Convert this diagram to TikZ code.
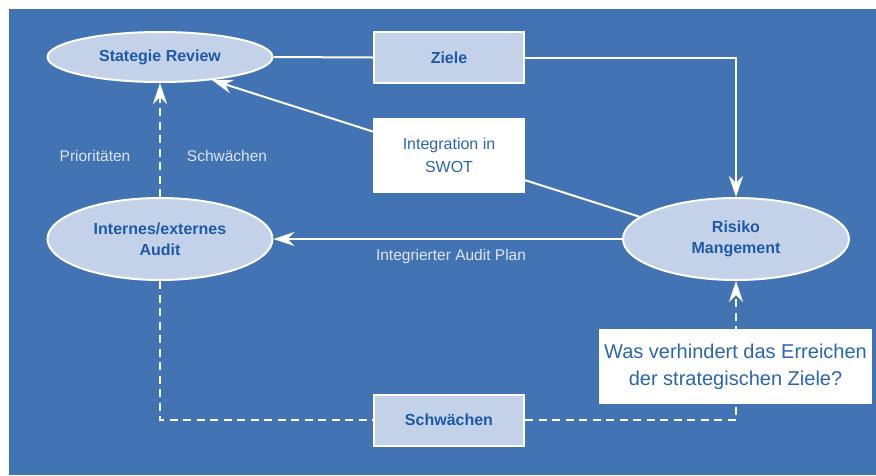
\documentclass[tikz,border=0pt]{standalone}
\usepackage{fontspec}
\setmainfont{Liberation Sans}
\usetikzlibrary{shapes.geometric,arrows.meta}

\definecolor{bgblue}{HTML}{4273B3}
\definecolor{paleblue}{HTML}{C4D2E9}
\definecolor{inkblue}{HTML}{1C5AA6}
\definecolor{softblue}{HTML}{2A66B0}
\definecolor{labelgrey}{HTML}{DCE5F1}

\tikzset{
  oval/.style={ellipse, draw=white, line width=2pt, fill=paleblue, inner sep=0pt,
    text=inkblue, align=center, font=\bfseries\fontsize{16}{21}\selectfont},
  tagbox/.style={rectangle, draw=white, line width=2pt, fill=paleblue, inner sep=0pt,
    minimum width=150pt, minimum height=51pt, text=inkblue,
    font=\bfseries\fontsize{16}{21}\selectfont},
  notebox/.style={rectangle, fill=white, inner sep=0pt, text=softblue, align=center},
  flowlabel/.style={text=labelgrey, font=\fontsize{15.5}{19}\selectfont, inner sep=0pt},
  link/.style={draw=white, line width=2pt},
  dashlink/.style={draw=white, line width=2.5pt, dash pattern=on 8pt off 5.5pt},
  tip/.style={-{Stealth[length=21pt,width=14pt,inset=7pt]}}
}

\begin{document}
\begin{tikzpicture}[x=1pt,y=-1pt]
  \useasboundingbox (0,0) rectangle (876,475);
  \fill[bgblue] (9,9) rectangle (876,475);

  % ovals
  \node[oval, minimum width=225pt, minimum height=50pt] (strat) at (160,57) {Stategie Review};
  \node[oval, minimum width=225pt, minimum height=82pt] (audit) at (160,239) {Internes/externes\\Audit};
  \node[oval, minimum width=226pt, minimum height=82pt] (risk) at (736,239) {Risiko\\Mangement};

  % boxes
  \node[tagbox] (ziele) at (449,57.5) {Ziele};
  \node[tagbox] (schw) at (449,420) {Schwächen};

  % solid connectors
  \draw[link] (strat.east) -- (ziele.west);
  \draw[link, tip] (ziele.east) -| (risk.north);
  \draw[link, tip] (risk.west) -- (audit.east);
  \draw[link, tip] (risk.167) -- (strat.-24);

  % dashed connectors
  \draw[dashlink, tip] (audit.north) -- (strat.south);
  \draw[dashlink] (audit.south) |- (schw.west);
  \draw[dashlink, tip] (schw.east) -| (risk.south);

  % white note boxes over the connectors
  \node[notebox, minimum width=152pt, minimum height=75pt,
        font=\fontsize{16}{23}\selectfont] (swot) at (449,155.5) {Integration in\\SWOT};
  \node[notebox, minimum width=273pt, minimum height=75pt,
        font=\fontsize{20}{27}\selectfont] (quest) at (735.5,366.5)
        {Was verhindert das Erreichen\\der strategischen Ziele?};

  % connector labels
  \node[flowlabel] (prio) at (95,156) {Prioritäten};
  \node[flowlabel] (weak) at (227,156) {Schwächen};
  \node[flowlabel] (plan) at (451,256) {Integrierter Audit Plan};
\end{tikzpicture}
\end{document}
